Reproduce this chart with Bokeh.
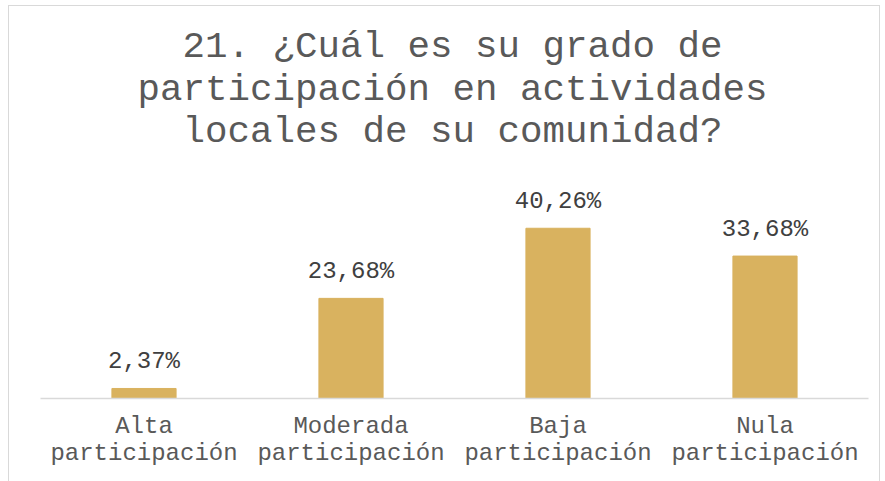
from bokeh.plotting import figure
from bokeh.models import ColumnDataSource, LabelSet, Label, FactorRange, Range1d
from bokeh.core.properties import value
from bokeh.embed import file_html
from bokeh.resources import INLINE

categories = ["Alta\nparticipación", "Moderada\nparticipación", "Baja\nparticipación", "Nula\nparticipación"]
values = [2.37, 23.68, 40.26, 33.68]
value_labels = ["2,37%", "23,68%", "40,26%", "33,68%"]
title_lines = ["21. ¿Cuál es su grado de", "participación en actividades", "locales de su comunidad?"]

FONT = "Liberation Mono"
BAR = "#D9B25F"

src = ColumnDataSource(dict(cat=categories, val=values, lab=value_labels))

p = figure(width=872, height=476, x_range=FactorRange(*categories, range_padding=0),
           y_range=Range1d(0, 92.7), output_backend="svg", toolbar_location=None,
           min_border_left=31, min_border_right=13, min_border_top=0, min_border_bottom=84)
p.title.visible = False
p.vbar(x="cat", top="val", width=0.31, source=src, color=BAR)

p.add_layout(LabelSet(x="cat", y="val", text="lab", source=src, y_offset=27,
                      text_align="center", text_baseline="middle",
                      text_font=value(FONT), text_font_size="24px", text_color="#404040"))

ys = [352, 309, 267]
for t, yy in zip(title_lines, ys):
    p.add_layout(Label(x=412, y=yy, x_units="screen", y_units="screen", text=t,
                       text_align="center", text_baseline="middle",
                       text_font=FONT, text_font_size="37.5px", text_color="#595959"))

p.yaxis.visible = False
p.xgrid.visible = False
p.ygrid.visible = False
p.outline_line_color = None
p.xaxis.axis_line_color = "#D9D9D9"
p.xaxis.axis_line_width = 1.5
p.xaxis.major_tick_line_color = None
p.xaxis.minor_tick_line_color = None
p.xaxis.major_label_text_font = FONT
p.xaxis.major_label_text_font_size = "24px"
p.xaxis.major_label_text_color = "#595959"
p.xaxis.major_label_text_line_height = 1.0
p.xaxis.major_label_standoff = 8
p.styles = {"border-top": "1px solid #D9D9D9", "border-left": "1px solid #D9D9D9",
            "border-right": "1px solid #D9D9D9", "margin-top": "5px", "margin-left": "8px"}

open("out.html", "w").write(file_html(p, INLINE))
